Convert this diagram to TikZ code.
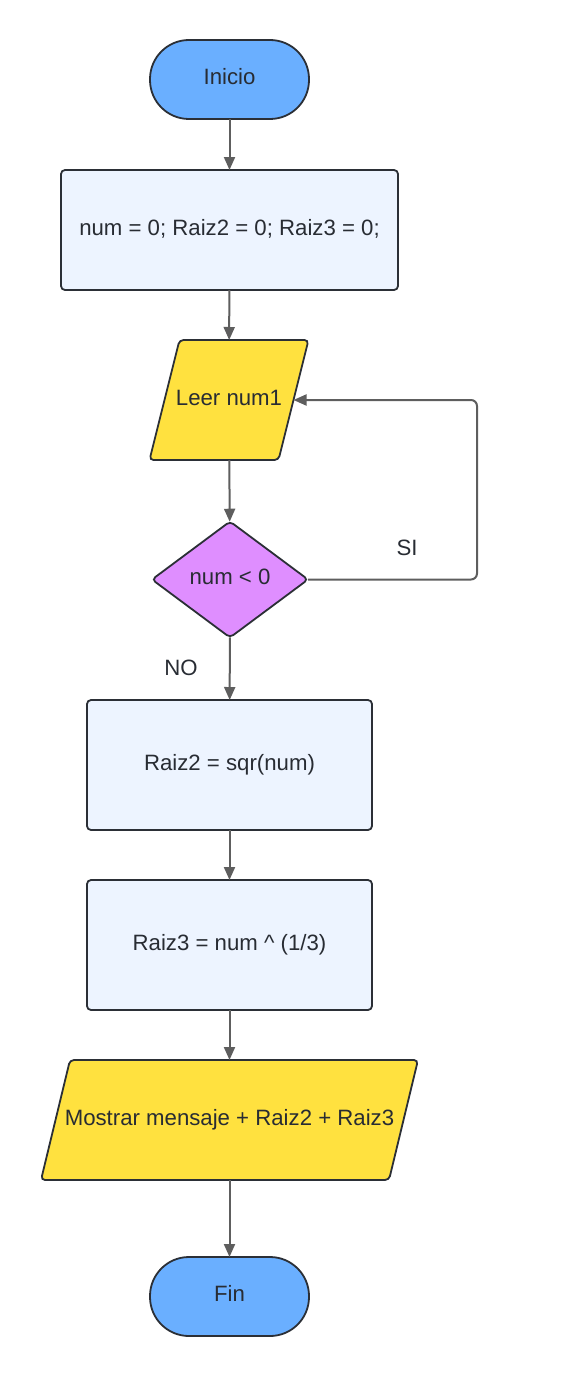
\documentclass[tikz,border=0pt]{standalone}
\usepackage{fontspec}
\setmainfont{Liberation Sans}
\usetikzlibrary{shapes.geometric,arrows.meta}
\definecolor{txt}{HTML}{282C33}
\definecolor{bord}{HTML}{2B2F36}
\definecolor{lin}{HTML}{5E5E5E}
\definecolor{term}{HTML}{6AAFFF}
\definecolor{proc}{HTML}{EDF4FF}
\definecolor{io}{HTML}{FFE13F}
\definecolor{dec}{HTML}{DF8EFF}
\tikzset{
  txtstyle/.style={text=txt, font=\fontsize{22.2}{26}\selectfont, text height=16pt, text depth=6pt},
  base/.style={draw=bord, line width=1.8pt, txtstyle, inner sep=0pt, outer sep=0pt},
  terminal/.style={base, rectangle, fill=term, rounded corners=39pt, minimum width=159pt, minimum height=79pt},
  procbox/.style={base, rectangle, fill=proc, rounded corners=4pt},
  iobox/.style={txtstyle, rectangle, inner sep=0pt, outer sep=0pt, minimum height=120pt},
  ioshape/.style={draw=bord, line width=1.8pt, fill=io, rounded corners=4pt},
  decbox/.style={base, diamond, fill=dec, rounded corners=4pt, minimum width=156pt, minimum height=116pt},
  arr/.style={draw=lin, line width=2pt, -{Triangle[length=13pt,width=11pt]}},
  lbl/.style={txtstyle, inner sep=0pt}
}
\begin{document}
\begin{tikzpicture}[x=1pt,y=-1pt]
\useasboundingbox (0,0) rectangle (567,1378);
\node[terminal] (ini) at (229.5,79.5) {Inicio};
\node[procbox, minimum width=337pt, minimum height=120pt] (b1) at (229.5,230) {num = 0; Raiz2 = 0; Raiz3 = 0;};
% Leer num1 parallelogram
\node[iobox, minimum width=129pt] (leer) at (229,400) {};
\draw[ioshape] ([xshift=15pt]leer.north west) -- ([xshift=15pt]leer.north east) -- ([xshift=-15pt]leer.south east) -- ([xshift=-15pt]leer.south west) -- cycle;
\node[lbl] at (leer) {Leer num1};
\node[decbox] (dia) at (230,579.5) {num < 0};
\node[procbox, minimum width=285pt, minimum height=130pt] (r2) at (229.5,765) {Raiz2 = sqr(num)};
\node[procbox, minimum width=285pt, minimum height=130pt] (r3) at (229.5,945) {Raiz3 = num \^{} (1/3)};
% Mostrar parallelogram
\node[iobox, minimum width=348pt] (most) at (229.5,1120) {};
\draw[ioshape] ([xshift=14.5pt]most.north west) -- ([xshift=14.5pt]most.north east) -- ([xshift=-14.5pt]most.south east) -- ([xshift=-14.5pt]most.south west) -- cycle;
\node[lbl] at (most) {Mostrar mensaje + Raiz2 + Raiz3};
\node[terminal] (fin) at (229.5,1296.5) {Fin};
\coordinate (loopc) at (477,400);
\node[lbl] (si) at (407,550) {SI};
\node[lbl] (no) at (181,670) {NO};
\draw[arr] (ini) -- (b1);
\draw[arr] (b1) -- (leer);
\draw[arr] (leer) -- (dia);
\draw[arr] (dia) -- (r2);
\draw[arr] (r2) -- (r3);
\draw[arr] (r3) -- (most);
\draw[arr] (most) -- (fin);
\draw[arr, rounded corners=6pt] (dia.east) -| (loopc) -- (leer.east);
\end{tikzpicture}
\end{document}
